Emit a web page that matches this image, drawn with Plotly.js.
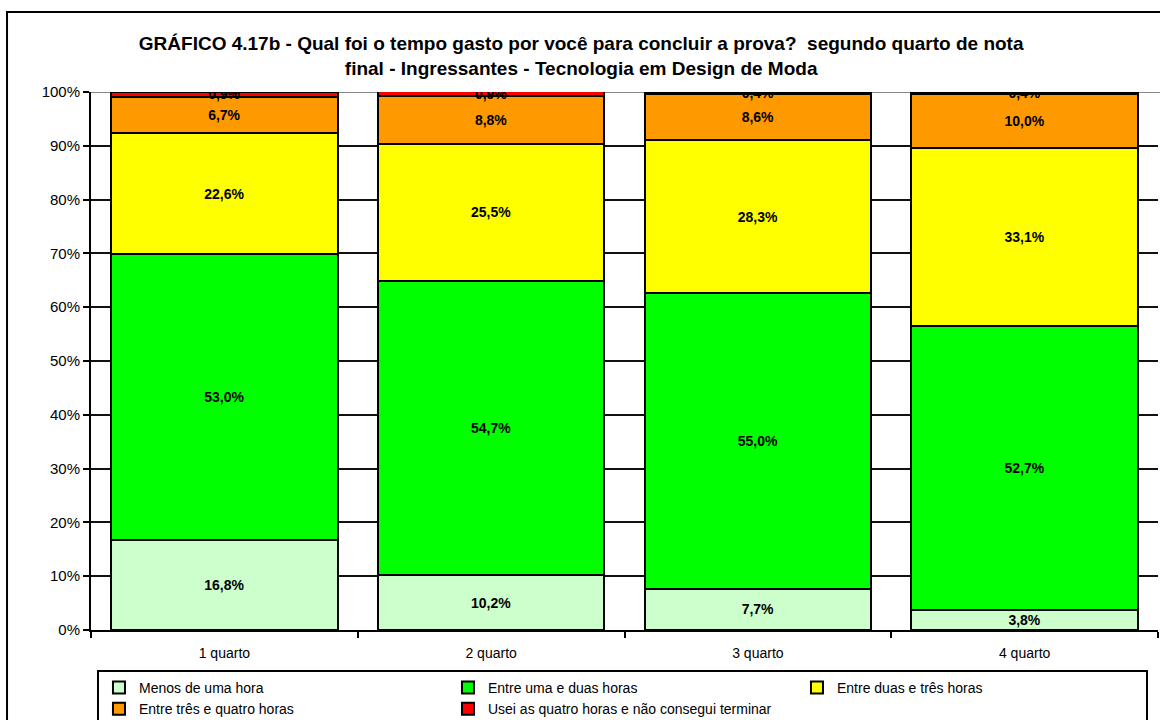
<!DOCTYPE html>
<html>
<head>
<meta charset="utf-8">
<script src="https://cdn.plot.ly/plotly-3.0.1.min.js"></script>
<style>html,body{margin:0;padding:0;background:#fff;}#chart{width:1160px;height:720px;}</style>
</head>
<body>
<div id="chart"></div>
<script>
const categories = ["1 quarto", "2 quarto", "3 quarto", "4 quarto"];
const seriesNames = ["Menos de uma hora", "Entre uma e duas horas", "Entre duas e três horas", "Entre três e quatro horas", "Usei as quatro horas e não consegui terminar"];
const menosUmaHora = [16.8, 10.2, 7.7, 3.8];
const umaDuasHoras = [53.0, 54.7, 55.0, 52.7];
const duasTresHoras = [22.6, 25.5, 28.3, 33.1];
const tresQuatroHoras = [6.7, 8.8, 8.6, 10.0];
const naoTerminou = [0.9, 0.9, 0.4, 0.4];
const colors = ["#ccffcc", "#00ff00", "#ffff00", "#ff9900", "#ff0000"];
const yTicks = [0, 10, 20, 30, 40, 50, 60, 70, 80, 90, 100];

const allSeries = [menosUmaHora, umaDuasHoras, duasTresHoras, tresQuatroHoras, naoTerminou];
const fmt = v => v.toFixed(1).replace('.', ',') + '%';

const traces = allSeries.map((vals, i) => ({
  type: 'bar',
  name: seriesNames[i],
  x: categories,
  y: vals,
  marker: {color: colors[i], line: {color: '#000', width: 2}},
  text: vals.map(fmt),
  textposition: 'inside',
  insidetextanchor: 'middle',
  constraintext: 'none',
  textangle: 0,
  textfont: {family: 'Arial, Liberation Sans, sans-serif', size: 14, color: '#000', weight: 'bold'},
  hoverinfo: 'skip'
}));

const layout = {
  width: 1160, height: 720,
  margin: {l: 91, r: 2, t: 92, b: 90, autoexpand: false},
  paper_bgcolor: '#fff', plot_bgcolor: '#fff',
  barmode: 'stack',
  bargap: 0.15,
  uniformtext: {mode: 'show', minsize: 14},
  font: {family: 'Arial, Liberation Sans, sans-serif', color: '#000'},
  title: {
    text: '<b>GRÁFICO 4.17b - Qual foi o tempo gasto por você para concluir a prova?  segundo quarto de nota<br>final - Ingressantes - Tecnologia em Design de Moda</b>',
    font: {family: 'Arial, Liberation Sans, sans-serif', size: 19, color: '#000'},
    x: 0.501, xanchor: 'center', xref: 'container',
    y: 0.93, yanchor: 'middle'
  },
  xaxis: {
    type: 'category',
    showline: true, linecolor: '#000', linewidth: 2,
    ticks: 'outside', tickson: 'boundaries', ticklen: 6, tickcolor: '#000', tickwidth: 2,
    tickfont: {size: 14, color: '#000'},
    ticklabelstandoff: 9,
    showgrid: false,
    fixedrange: true
  },
  yaxis: {
    range: [0, 100],
    tickvals: yTicks,
    ticktext: yTicks.map(v => v + '%'),
    showline: true, linecolor: '#000', linewidth: 2,
    ticks: 'outside', ticklen: 6, tickcolor: '#000', tickwidth: 2,
    tickfont: {size: 15, color: '#000'},
    showgrid: true, gridcolor: '#111', gridwidth: 2,
    zeroline: false,
    fixedrange: true
  },
  showlegend: true,
  legend: {
    orientation: 'h',
    x: 0.0056, xanchor: 'left',
    y: -0.0743, yanchor: 'top',
    bordercolor: '#000', borderwidth: 2,
    bgcolor: '#fff',
    entrywidth: 304, entrywidthmode: 'pixels',
    font: {size: 14, color: '#000'},
    traceorder: 'normal',
    itemclick: false, itemdoubleclick: false,
    tracegroupgap: 0
  },
  shapes: [
    {type: 'rect', xref: 'paper', yref: 'paper', x0: -0.0787, x1: 1.01, y0: -0.2, y1: 1.1487,
     line: {color: '#000', width: 2}, fillcolor: 'rgba(0,0,0,0)', layer: 'above'},
    {type: 'line', xref: 'paper', yref: 'y', x0: 0, x1: 1.01, y0: 100, y1: 100,
     line: {color: '#888', width: 2}, layer: 'below'}
  ]
};

Plotly.newPlot('chart', traces, layout, {displayModeBar: false, staticPlot: true});
</script>
</body>
</html>
